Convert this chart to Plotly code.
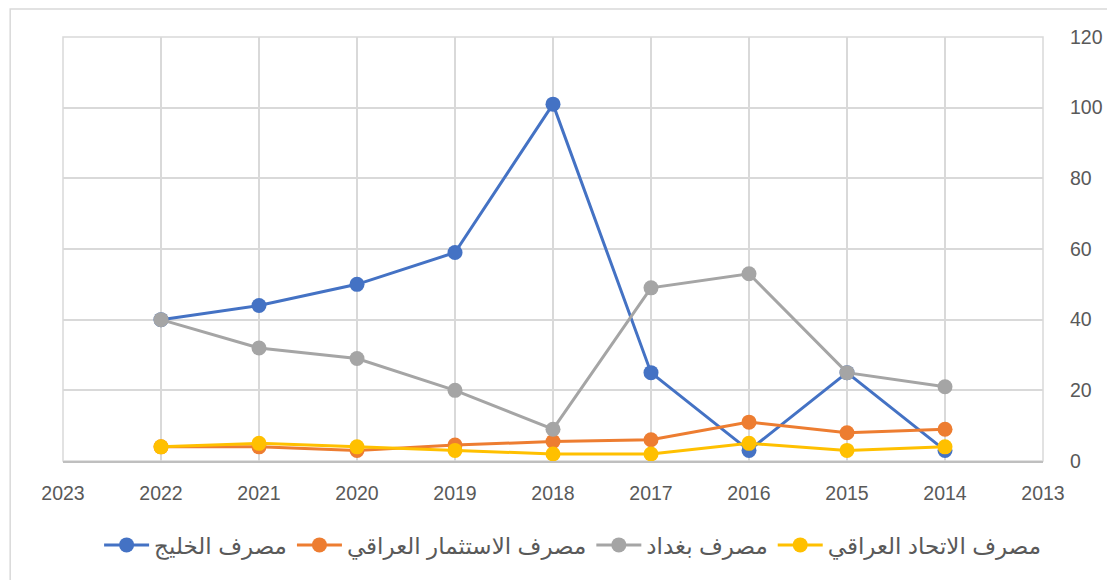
import plotly.graph_objects as go

years = [2022, 2021, 2020, 2019, 2018, 2017, 2016, 2015, 2014]
gulf = [40, 44, 50, 59, 101, 25, 3, 25, 3]
invest = [4, 4, 3, 4.5, 5.5, 6, 11, 8, 9]
baghdad = [40, 32, 29, 20, 9, 49, 53, 25, 21]
union = [4, 5, 4, 3, 2, 2, 5, 3, 4]

names = ["مصرف الخليج", "مصرف الاستثمار العراقي", "مصرف بغداد", "مصرف الاتحاد العراقي"]
colors = ["#4472C4", "#ED7D31", "#A5A5A5", "#FFC000"]
series = [gulf, invest, baghdad, union]

fig = go.Figure()
for n, c, s in zip(names, colors, series):
    fig.add_trace(go.Scatter(x=years, y=s, name=n, mode="lines+markers",
                             line=dict(color=c, width=3),
                             marker=dict(color=c, size=15)))

font = "Liberation Sans, DejaVu Sans, Arial, sans-serif"
fig.update_layout(
    width=1107, height=572,
    margin=dict(l=55, r=68, t=29, b=119),
    paper_bgcolor="white", plot_bgcolor="white",
    font=dict(family=font, size=20, color="#595959"),
    showlegend=True,
    legend=dict(orientation="h", x=0.52, xanchor="center", y=-0.198, yanchor="middle",
                font=dict(size=23, color="#595959"), traceorder="normal",
                itemwidth=45),
    xaxis=dict(range=[2023, 2013], dtick=1, tick0=2013, showgrid=True,
               gridcolor="#D9D9D9", gridwidth=1.5, zeroline=False,
               showline=True, linecolor="#BFBFBF", linewidth=1.5,
               ticks="", ticklabelstandoff=14, tickfont=dict(size=19.5)),
    yaxis=dict(range=[0, 120], dtick=20, side="right", showgrid=True,
               gridcolor="#D9D9D9", gridwidth=1.5, zeroline=False,
               showline=False, ticks="", ticklabelstandoff=26, tickfont=dict(size=19.5)),
    shapes=[dict(type="rect", xref="paper", yref="paper",
                 x0=-0.0539, x1=1.2, y0=-0.5, y1=1.066,
                 line=dict(color="#D9D9D9", width=1.5), layer="below"),
            dict(type="rect", xref="paper", yref="paper",
                 x0=0, x1=1, y0=0, y1=1,
                 line=dict(color="#D9D9D9", width=1.5), layer="below")],
)
fig.write_html("out.html")
